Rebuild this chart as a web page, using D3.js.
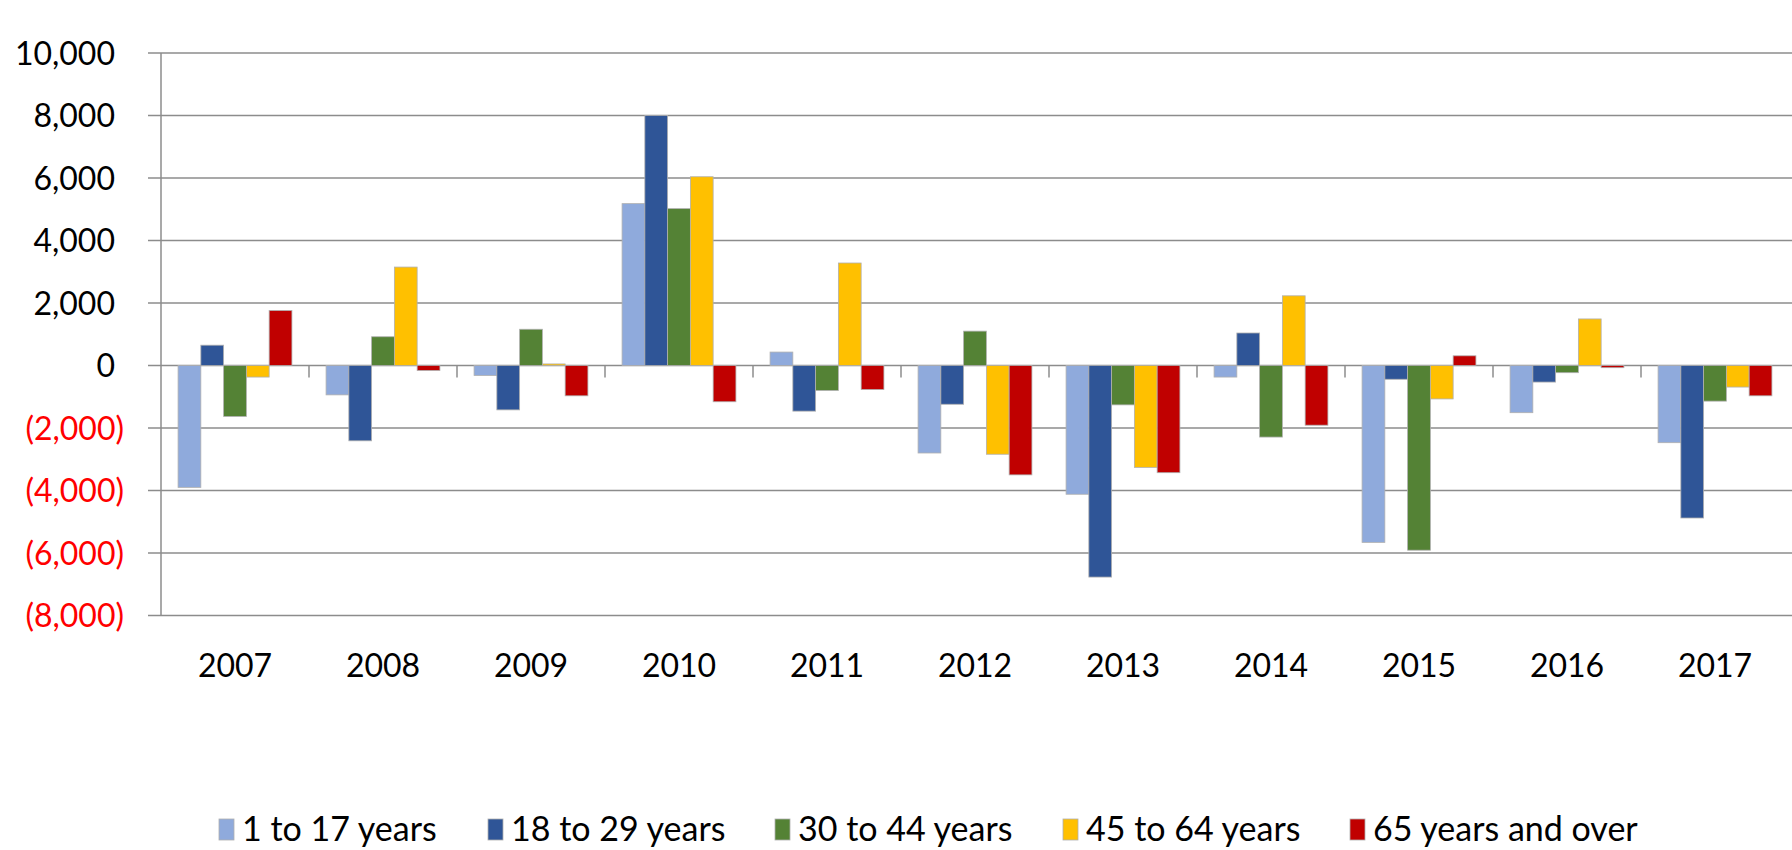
<!DOCTYPE html>
<html>
<head>
<meta charset="utf-8">
<script src="https://cdn.jsdelivr.net/npm/d3@7"></script>
<style>
  body { margin: 0; background: #fff; }
  svg text { font-family: Lato, "Liberation Sans", sans-serif; }
</style>
</head>
<body>
<svg width="1792" height="850"></svg>
<script>
// data
const years = ["2007","2008","2009","2010","2011","2012","2013","2014","2015","2016","2017"];
const seriesNames = ["1 to 17 years","18 to 29 years","30 to 44 years","45 to 64 years","65 years and over"];
const age1to17   = [-3900, -940, -320, 5180,   430, -2800, -4120,  -370, -5660, -1510, -2470];
const age18to29  = [  650, -2410, -1420, 8000, -1460, -1240, -6770, 1040,  -440,  -530, -4880];
const age30to44  = [-1630,  920, 1160, 5020,  -800,  1100, -1260, -2290, -5910,  -230, -1140];
const age45to64  = [ -370, 3150,   50, 6040,  3280, -2840, -3260,  2230, -1070,  1490,  -690];
const age65plus  = [ 1760, -160, -970, -1160, -770, -3500, -3430, -1910,   310,   -70,  -970];
const yTicks = [10000, 8000, 6000, 4000, 2000, 0, -2000, -4000, -6000, -8000];
const colors = ["#8FAADC", "#2F5597", "#548235", "#FFC000", "#C00000"];

const allSeries = [age1to17, age18to29, age30to44, age45to64, age65plus];

const svg = d3.select("svg");
const plotLeft = 161, plotRight = 1789, plotTop = 53, plotBottom = 615.5;

const x0 = d3.scaleBand()
    .domain(years)
    .range([plotLeft, plotRight])
    .paddingInner(1.5 / 6.5)
    .paddingOuter(0.75 / 6.5);
const x1 = d3.scaleBand()
    .domain(d3.range(seriesNames.length))
    .range([0, x0.bandwidth()]);
const y = d3.scaleLinear().domain([-8000, 10000]).range([plotBottom, plotTop]);

const fmt = d3.format(",");

// gridlines
svg.append("g")
  .selectAll("line")
  .data(yTicks)
  .join("line")
    .attr("x1", 148).attr("x2", 1792)
    .attr("y1", d => y(d)).attr("y2", d => y(d))
    .attr("stroke", "#8c8c8c")
    .attr("stroke-width", 1.5);

// y labels
svg.append("g")
  .selectAll("text")
  .data(yTicks)
  .join("text")
    .attr("x", d => d < 0 ? 124 : 115)
    .attr("y", d => y(d))
    .attr("dy", "0.36em")
    .attr("text-anchor", "end")
    .attr("font-size", 32)
    .attr("fill", d => d < 0 ? "#FF0000" : "#000")
    .text(d => d < 0 ? "(" + fmt(-d) + ")" : fmt(d));

// bars
const groups = svg.append("g")
  .selectAll("g")
  .data(years)
  .join("g")
    .attr("transform", d => `translate(${x0(d)},0)`);

groups.selectAll("rect")
  .data((d, i) => allSeries.map((s, k) => ({k: k, v: s[i]})))
  .join("rect")
    .attr("x", d => x1(d.k))
    .attr("width", x1.bandwidth())
    .attr("y", d => y(Math.max(0, d.v)))
    .attr("height", d => Math.abs(y(d.v) - y(0)))
    .attr("fill", d => colors[d.k])
    .attr("stroke", "#b0b0b0")
    .attr("stroke-width", 0.8);

// y axis line
svg.append("line")
  .attr("x1", plotLeft).attr("x2", plotLeft)
  .attr("y1", plotTop).attr("y2", plotBottom)
  .attr("stroke", "#8c8c8c")
  .attr("stroke-width", 1.5);

// category tick marks on the zero line
const step = x0.step();
svg.append("g")
  .selectAll("line")
  .data(d3.range(1, years.length))
  .join("line")
    .attr("x1", i => plotLeft + i * step).attr("x2", i => plotLeft + i * step)
    .attr("y1", y(0)).attr("y2", y(0) + 12)
    .attr("stroke", "#8c8c8c")
    .attr("stroke-width", 1.5);

// x labels
svg.append("g")
  .selectAll("text")
  .data(years)
  .join("text")
    .attr("x", d => x0(d) + x0.bandwidth() / 2)
    .attr("y", 665)
    .attr("dy", "0.36em")
    .attr("text-anchor", "middle")
    .attr("font-size", 32)
    .attr("fill", "#000")
    .text(d => d);

// legend
const legendX = [219, 488, 775, 1063, 1350];
const legend = svg.append("g")
  .selectAll("g")
  .data(seriesNames)
  .join("g")
    .attr("transform", (d, i) => `translate(${legendX[i]},829)`);
legend.append("rect")
  .attr("x", 0).attr("y", -10)
  .attr("width", 15).attr("height", 21)
  .attr("fill", (d, i) => colors[i])
  .attr("stroke", "#b0b0b0")
  .attr("stroke-width", 0.8);
legend.append("text")
  .attr("x", 23)
  .attr("dy", "0.34em")
  .attr("font-size", 34)
  .attr("fill", "#000")
  .text(d => d);
</script>
</body>
</html>
